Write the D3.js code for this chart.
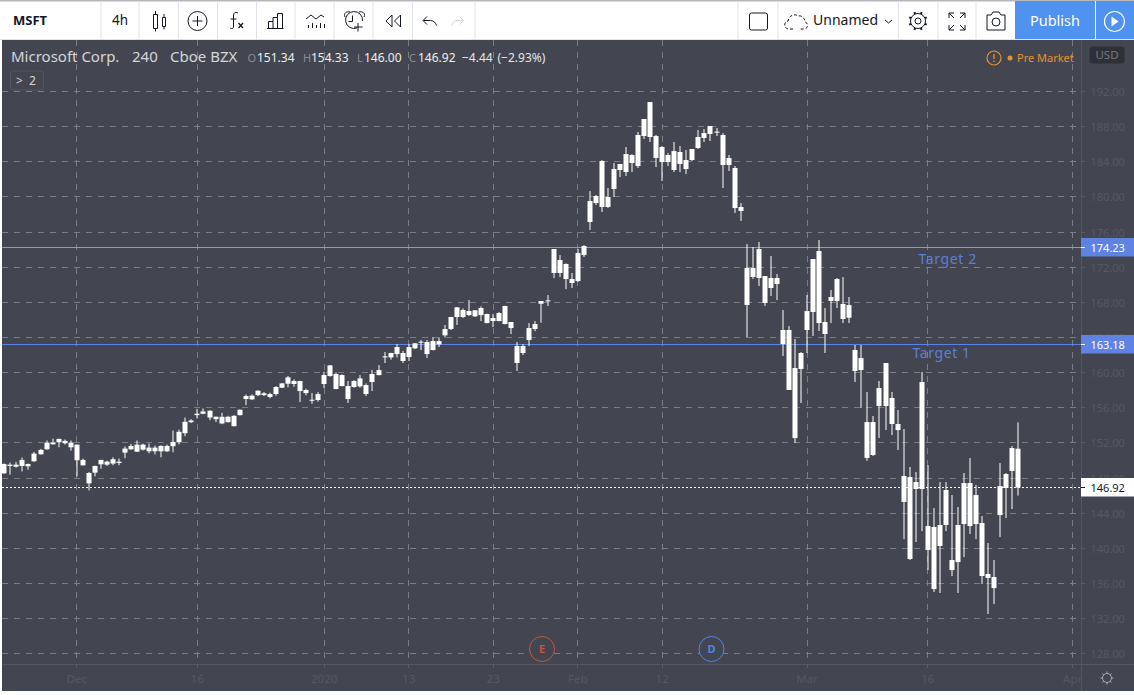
<!DOCTYPE html>
<html><head><meta charset="utf-8">
<style>html,body{margin:0;padding:0;background:#fff;overflow:hidden}svg{display:block}text{font-family:"Noto Sans",sans-serif}</style>
<script src="https://cdn.jsdelivr.net/npm/d3@7/dist/d3.min.js"></script></head><body>
<script>
// --- Data (USD) ---
const bodyTops=[149.60,149.52,149.52,150.06,149.60,150.78,151.20,152.03,152.03,152.45,
152.23,152.03,151.80,150.06,148.57,149.37,150.06,149.86,150.13,149.86,
151.35,151.65,151.80,151.80,151.46,151.46,151.65,151.65,152.11,153.26,
154.40,154.55,155.31,155.58,155.66,154.97,154.97,154.97,155.08,155.77,
157.33,157.37,157.94,157.64,157.56,158.36,158.77,159.46,159.04,159.04,
158.02,156.91,157.56,159.72,160.82,159.84,159.72,158.47,159.04,159.34,
158.58,159.84,160.29,161.85,162.23,162.91,162.23,162.91,163.33,163.52,
163.48,163.59,163.59,164.96,166.33,167.43,167.12,167.01,167.09,167.35,
166.67,166.21,166.78,167.58,165.76,163.02,163.02,165.07,165.53,168.15,
168.22,174.07,172.82,172.36,170.65,173.61,174.41,179.53,180.10,184.09,
179.99,183.18,183.75,184.88,184.77,187.05,188.87,190.80,186.93,185.68,
184.77,185.22,185.11,184.20,185.45,186.82,187.27,188.07,187.43,187.05,
184.43,183.29,178.85,171.91,171.91,174.07,170.99,170.77,170.77,164.85,
164.85,160.52,162.23,167.01,172.93,173.84,165.76,168.60,170.65,167.81,
167.69,162.57,161.66,154.37,154.37,158.24,161.09,157.11,154.15,148.23,
148.11,147.54,158.93,142.53,142.42,142.65,146.63,138.66,142.65,147.43,
147.43,146.06,142.88,137.07,136.73,147.09,148.45,151.41,151.34];
const bodyBottoms=[148.53,149.37,149.29,149.37,149.33,149.90,150.70,151.27,151.84,152.07,
151.96,151.50,150.02,149.45,147.39,148.61,149.56,149.52,149.64,149.71,
150.89,151.27,151.00,151.23,151.04,151.04,151.04,151.04,151.62,152.07,
153.10,154.36,155.16,155.31,154.89,154.70,154.21,154.36,153.90,155.16,
156.99,156.95,157.44,157.44,157.22,157.56,158.28,158.74,158.70,157.90,
157.67,156.80,156.88,158.70,159.61,158.13,158.47,156.99,158.36,158.43,
157.56,158.93,159.72,161.73,161.73,162.11,161.32,161.77,162.76,163.44,
162.11,162.57,163.21,164.24,164.96,166.33,166.33,166.55,166.40,166.55,
165.64,165.87,165.87,165.53,165.07,161.09,162.23,163.71,164.96,167.84,
168.11,171.34,171.34,170.65,170.20,170.42,173.38,177.14,179.30,178.85,
178.85,180.90,183.06,182.83,183.86,183.52,186.93,186.82,184.43,183.97,
183.97,183.06,183.75,183.18,184.20,185.57,186.71,187.16,187.31,183.63,
183.63,178.73,178.39,167.69,170.88,170.77,167.92,169.63,170.09,163.25,
158.02,152.55,160.41,164.85,166.90,165.64,164.39,168.15,168.15,166.10,
166.25,160.18,160.29,150.28,150.62,156.20,156.20,154.15,153.46,145.27,
138.78,146.75,146.75,139.80,135.36,140.26,142.65,137.52,138.43,142.76,
142.53,142.76,136.84,136.62,135.47,143.78,146.86,148.80,146.92];
const highs=[149.64,149.75,149.83,150.33,149.64,150.97,151.31,152.27,152.49,152.49,
152.38,152.27,151.84,150.21,148.68,149.41,150.06,149.98,150.36,150.21,
151.58,151.88,152.27,151.92,151.92,151.69,151.73,151.80,153.41,153.52,
154.89,154.70,155.88,155.92,155.69,155.01,155.43,155.08,155.16,155.81,
157.52,157.52,157.98,157.79,157.71,158.47,158.81,159.61,159.23,159.08,
158.17,157.67,157.79,160.10,160.86,160.03,159.80,159.04,159.15,159.72,
158.77,160.29,160.86,162.34,162.27,163.25,162.46,163.25,163.37,163.71,
163.71,164.05,163.94,165.42,166.36,167.46,167.31,168.26,167.12,167.54,
166.71,166.67,166.90,167.62,165.76,163.48,163.25,165.64,165.87,168.15,
168.83,174.07,173.38,172.44,171.34,174.07,174.52,180.67,180.22,184.20,
181.01,183.86,183.75,185.68,184.88,187.39,188.87,190.80,187.05,185.79,
185.00,186.25,185.79,185.34,185.45,187.62,187.73,188.07,187.84,187.27,
184.77,183.52,179.30,174.64,174.30,174.87,170.99,173.27,171.22,167.12,
165.30,163.82,162.34,168.83,172.93,175.09,167.35,169.40,170.77,170.88,
168.60,163.14,163.14,157.79,155.06,159.04,161.09,157.79,155.74,153.58,
149.25,148.68,160.07,149.47,144.58,147.54,147.54,146.06,144.70,148.57,
150.28,147.20,143.67,140.60,138.66,149.71,148.57,151.64,154.33];
const lows=[148.49,148.38,149.18,148.76,148.95,149.86,150.66,151.23,151.80,151.50,
151.80,151.12,148.19,149.41,146.59,148.19,149.06,149.37,149.45,149.45,
150.25,151.20,150.97,151.12,150.82,150.70,150.36,150.97,150.93,151.84,
152.76,154.25,154.78,155.27,154.59,154.36,154.13,154.32,153.87,155.12,
156.30,156.91,157.33,157.33,157.07,157.37,158.24,158.32,158.39,156.65,
157.41,156.46,156.69,158.24,159.53,158.09,158.43,156.54,158.28,158.28,
157.33,157.90,159.68,161.09,161.47,161.73,161.09,161.32,162.68,162.57,
161.66,162.53,162.91,164.01,164.85,165.42,166.21,166.44,166.33,165.87,
165.61,165.19,165.83,165.49,164.39,160.18,162.00,163.02,164.73,165.68,
167.58,170.77,170.88,169.51,169.63,170.31,173.16,176.23,179.08,178.28,
178.74,179.99,182.26,182.38,182.83,183.29,186.59,186.25,183.40,181.81,
183.52,182.83,182.83,182.61,184.09,185.45,186.25,186.36,186.93,181.01,
182.95,178.17,177.26,164.05,170.65,169.86,167.58,168.72,168.26,161.89,
158.02,151.98,156.54,162.23,164.17,164.73,162.23,165.64,167.35,165.64,
165.64,158.93,155.97,149.97,150.50,152.55,153.46,152.89,151.19,141.05,
138.66,140.71,141.96,137.52,135.02,134.91,141.96,136.84,134.91,139.00,
141.62,141.05,135.93,132.52,133.65,141.28,143.44,144.47,146.00];
const priceTicks=[128,132,136,140,144,148,152,156,160,164,168,172,176,180,184,188,192];
const timeTickBars=[12,32,53,67,81,95,109,133,153,177];
const timeTickLabels=["Dec","16","2020","13","23","Feb","12","Mar","16","Apr"];
const targets=[{name:"Target 2",price:174.23,bar:156.3,line:"#8f9bb8"},{name:"Target 1",price:163.18,bar:155.3,line:"#5b82e6"}];
const lastPrice=146.92;
const legendValues=[["O","151.34"],["H","154.33"],["L","146.00"],["C","146.92"]];

const W=1134,H=695,BG="#434651",GRID="#7b7d85",DIM="#555862";
const svg=d3.select("body").append("svg").attr("width",W).attr("height",H);
const x=d3.scaleLinear().domain([0,168]).range([4.3,1018.3]);
const y=d3.scaleLinear().domain([192,128]).range([91.5,653.7]);
const snap=v=>Math.round(v-0.5)+0.5;

svg.append("rect").attr("width",W).attr("height",H).attr("fill","#fff");
svg.append("rect").attr("x",2).attr("y",40).attr("width",W-2).attr("height",651).attr("fill",BG);
svg.append("rect").attr("width",W).attr("height",1.5).attr("fill","#b7b8bc");

// grid
const grid=svg.append("g").attr("stroke",GRID).attr("stroke-width",1).attr("stroke-dasharray","6,6");
grid.selectAll(".h").data(priceTicks).join("line").attr("x1",2).attr("x2",1081)
  .attr("y1",d=>snap(y(d))).attr("y2",d=>snap(y(d)));
grid.selectAll(".v").data(timeTickBars).join("line").attr("y1",40).attr("y2",664)
  .attr("x1",d=>snap(x(d))).attr("x2",d=>snap(x(d)));

// axes borders
svg.append("line").attr("x1",1081.5).attr("x2",1081.5).attr("y1",40).attr("y2",691).attr("stroke","#54575f");
svg.append("line").attr("x1",2).attr("x2",W).attr("y1",664.5).attr("y2",664.5).attr("stroke","#54575f");

// price axis
const pa=svg.append("g");
pa.selectAll("line").data(priceTicks).join("line").attr("x1",1081).attr("x2",1085)
  .attr("y1",d=>snap(y(d))).attr("y2",d=>snap(y(d))).attr("stroke","#5a5d68");
pa.selectAll("text").data(priceTicks).join("text").attr("x",1090.5).attr("y",d=>y(d)+4.5)
  .attr("font-size",11).attr("fill",DIM).text(d=>d3.format(".2f")(d));

// time axis
const ta=svg.append("g");
ta.selectAll("line").data(timeTickBars).join("line").attr("x1",d=>snap(x(d))).attr("x2",d=>snap(x(d)))
  .attr("y1",664).attr("y2",668).attr("stroke","#5a5d68");
ta.selectAll("text").data(timeTickBars).join("text").attr("x",d=>x(d)).attr("y",683)
  .attr("text-anchor","middle").attr("font-size",11.5).attr("fill",DIM).text((d,i)=>timeTickLabels[i]);

// target lines
const tg=svg.append("g");
tg.selectAll("line").data(targets).join("line").attr("x1",2).attr("x2",1081)
  .attr("y1",d=>snap(y(d.price))).attr("y2",d=>snap(y(d.price))).attr("stroke",d=>d.line);
tg.selectAll("text").data(targets).join("text").attr("x",d=>x(d.bar)).attr("y",d=>y(d.price)+(d.price>170?16:13))
  .attr("font-size",14).attr("letter-spacing",0.6).attr("fill","#5b7fd8").attr("text-anchor","middle").text(d=>d.name);

// last price line
svg.append("line").attr("x1",2).attr("x2",1081).attr("y1",snap(y(lastPrice))).attr("y2",snap(y(lastPrice)))
  .attr("stroke","#fff").attr("stroke-dasharray","2,2");

// candles
const idx=d3.range(bodyTops.length);
const c=svg.append("g").attr("fill","#fff").attr("stroke","none");
c.selectAll(".w").data(idx).join("rect").attr("x",i=>Math.round(x(i))-0.5+0).attr("width",1)
  .attr("y",i=>y(highs[i])).attr("height",i=>y(lows[i])-y(highs[i]));
c.selectAll(".b").data(idx).join("rect").attr("x",i=>Math.round(x(i))-2.5).attr("width",5)
  .attr("y",i=>y(bodyTops[i])).attr("height",i=>Math.max(1,y(bodyBottoms[i])-y(bodyTops[i])));

// price labels
[...targets.map(t=>[t.price,"#5f83e3","#fff"]),[lastPrice,"#fff","#131722"]].forEach(([p,bg,fg])=>{
  const py=snap(y(p));
  svg.append("rect").attr("x",1081).attr("y",py-9.5).attr("width",53).attr("height",18.5).attr("fill",bg);
  svg.append("line").attr("x1",1081).attr("x2",1085).attr("y1",py).attr("y2",py).attr("stroke",fg);
  svg.append("text").attr("x",1090.5).attr("y",py+4).attr("font-size",11).attr("fill",fg).text(d3.format(".2f")(p));
});

// legend
const lg=svg.append("g").attr("font-size",12);
lg.append("text").attr("x",11).attr("y",62).attr("font-size",15).attr("fill","#d5d6da").text("Microsoft Corp.");
lg.append("text").attr("x",132).attr("y",62).attr("font-size",15).attr("fill","#d5d6da").text("240");
lg.append("text").attr("x",170).attr("y",62).attr("font-size",15).attr("fill","#d5d6da").text("Cboe BZX");
[[247.5,257],[303,311],[357,364],[409,418]].forEach(([a,b],i)=>{
  lg.append("text").attr("x",a).attr("y",62).attr("font-size",11).attr("fill","#8b8d96").text(legendValues[i][0]);
  lg.append("text").attr("x",b).attr("y",62).attr("fill","#eeeeef").text(legendValues[i][1]);
});
lg.append("text").attr("x",462).attr("y",62).attr("fill","#e4e4e6").text("−4.44");
lg.append("text").attr("x",497.5).attr("y",62).attr("fill","#e4e4e6").text("(−2.93%)");
svg.append("rect").attr("x",10.5).attr("y",71).attr("width",33).attr("height",19).attr("rx",3).attr("fill",BG).attr("stroke","#54575f");
svg.append("text").attr("x",16).attr("y",84.5).attr("font-size",12).attr("fill","#d5d6da").text(">");
svg.append("text").attr("x",29).attr("y",84.5).attr("font-size",12).attr("fill","#d5d6da").text("2");

// pre market
const O="#e8912d";
svg.append("circle").attr("cx",994).attr("cy",58).attr("r",7).attr("fill","none").attr("stroke",O).attr("stroke-width",1.2);
svg.append("path").attr("d","M994 54v5M994 60.5v1.5").attr("stroke",O).attr("stroke-width",1.3);
svg.append("circle").attr("cx",1010).attr("cy",58).attr("r",2.5).attr("fill",O);
svg.append("text").attr("x",1017).attr("y",62).attr("font-size",11).attr("fill",O).text("Pre Market");

// USD
svg.append("rect").attr("x",1089.5).attr("y",46.5).attr("width",35).attr("height",17).attr("rx",3).attr("fill","#2f3037");
svg.append("text").attr("x",1107).attr("y",59).attr("text-anchor","middle").attr("font-size",11.5).attr("fill","#75777f").text("USD");

// event markers
[[542,"E","#c0583c"],[711.5,"D","#4a86e8"]].forEach(([cx,t,col])=>{
  svg.append("circle").attr("cx",cx).attr("cy",649).attr("r",12.5).attr("fill",BG).attr("stroke",col);
  svg.append("text").attr("x",cx).attr("y",653).attr("text-anchor","middle").attr("font-size",11).attr("font-weight",700).attr("fill",col).text(t);
});

// gear bottom right
const gearG=svg.append("g").attr("transform","translate(1107,678)").attr("fill","none").attr("stroke","#a9abb2");
gearG.append("circle").attr("r",4.5);
gearG.append("path").attr("d",d3.range(8).map(k=>{const a=k*Math.PI/4;return `M${4.5*Math.cos(a)} ${4.5*Math.sin(a)}L${6.5*Math.cos(a)} ${6.5*Math.sin(a)}`}).join(""));

// toolbar
const tb=svg.append("g");
tb.append("line").attr("x1",0).attr("x2",W).attr("y1",39.5).attr("y2",39.5).attr("stroke","#e0e3eb");
[101,139,178.5,217.5,256.5,295,334,373,412.5,475,738,778,898.5,938,976].forEach(v=>{
  tb.append("line").attr("x1",v).attr("x2",v).attr("y1",1).attr("y2",39).attr("stroke","#e0e3eb");
});
tb.append("rect").attr("x",1015).attr("y",1).attr("width",119).attr("height",38).attr("fill","#4f92f0");
tb.append("line").attr("x1",1095.5).attr("x2",1095.5).attr("y1",1).attr("y2",39).attr("stroke","#fff");
tb.append("text").attr("x",13).attr("y",25).attr("font-size",13).attr("font-weight",700).attr("fill","#131722").text("MSFT");
tb.append("text").attr("x",120).attr("y",25).attr("font-size",13.5).attr("text-anchor","middle").attr("fill","#131722").text("4h");
tb.append("text").attr("x",813).attr("y",25).attr("font-size",14).attr("fill","#131722").text("Unnamed");
tb.append("text").attr("x",1055).attr("y",25.5).attr("font-size",14.5).attr("text-anchor","middle").attr("fill","#fff").text("Publish");
const ic=(d,col="#131722",w=1)=>tb.append("path").attr("d",d).attr("fill","none").attr("stroke",col).attr("stroke-width",w);
// candles icon
ic("M153.5 14.5h4v14h-4zM155.5 11v3.5M155.5 28.5v3M162.5 17.5h3v9h-3zM164 14v3.5M164 26.5v3");
// plus circle
tb.append("circle").attr("cx",197.5).attr("cy",21).attr("r",9.5).attr("fill","none").attr("stroke","#131722");
ic("M197.5 16v10M192.5 21h10");
// fx
ic("M238 13c-3-1.5-4.5 0-4.5 3v10c0 3-1.5 3-3.5 2M230.5 19h6");
ic("M238.5 23l4.5 5M243 23l-4.5 5","#131722",1.3);
// bars
ic("M267 28.5h16.5M268.5 28.5V21.5h4.5M273 28.5V17.5h4.5V28.5M277.5 17.5V13.5h5V28.5");
// indicators
ic("M306 19l5-4 5 4 5-4 3 2M308.5 28v-3M312.5 28v-5M316.5 28v-3M320.5 28v-5M324.5 28v-4");
// alarm
ic("M357 28A8.5 8.5 0 1 1 362.5 21M345 17c-2-4 2-6 5-5M364 17c2-4-2-6-5-5M352.5 15.5v6h-4M354 27h8.5M358 23v8.5");
// rewind
ic("M392 15l-6 6 6 6zM400.5 15l-6 6 6 6z");
// undo redo
ic("M423.5 20.5h7c3 0 5 2 6 5M427 16.5l-4 4 4 4");
ic("M463 20.5h-6c-3 0-4 2-5 5M459.5 16.5l4 4-4 4","#d1d4dc");
// square
tb.append("rect").attr("x",749.5).attr("y",13).attr("width",18).attr("height",17).attr("rx",2).attr("fill","none").attr("stroke","#131722");
// cloud
ic("M793 29h-4c-5 0-6-7-1-8 1-5 6-8 10-5 3-1 7 2 7 6 4 1 3 7-1 7h-5","#131722").attr("stroke-dasharray","3,2");
// chevron
ic("M885 20l3.5 3 3.5-3");
// settings gear
const g2=tb.append("g").attr("transform","translate(918,21)").attr("fill","none").attr("stroke","#131722");
g2.append("circle").attr("r",3);
g2.append("circle").attr("r",7.5);
g2.append("path").attr("d",d3.range(8).map(k=>{const a=k*Math.PI/4+Math.PI/8;return `M${7.5*Math.cos(a)} ${7.5*Math.sin(a)}L${9.5*Math.cos(a)} ${9.5*Math.sin(a)}`}).join("")).attr("stroke-width",2);
// fullscreen
ic("M949 18v-5h5M949 13l5 5M965 18v-5h-5M965 13l-5 5M949 25v5h5M949 30l5-5M965 25v5h-5M965 30l-5-5");
// camera
ic("M987 15h4l2-3h6l2 3h4v15h-18z");
tb.append("circle").attr("cx",996).attr("cy",22).attr("r",4).attr("fill","none").attr("stroke","#131722");
// play
tb.append("circle").attr("cx",1114.5).attr("cy",21.5).attr("r",10).attr("fill","none").attr("stroke","#fff").attr("stroke-width",1.2);
tb.append("path").attr("d","M1111.5 16.5l7 5-7 5z").attr("fill","#fff");
</script></body></html>
